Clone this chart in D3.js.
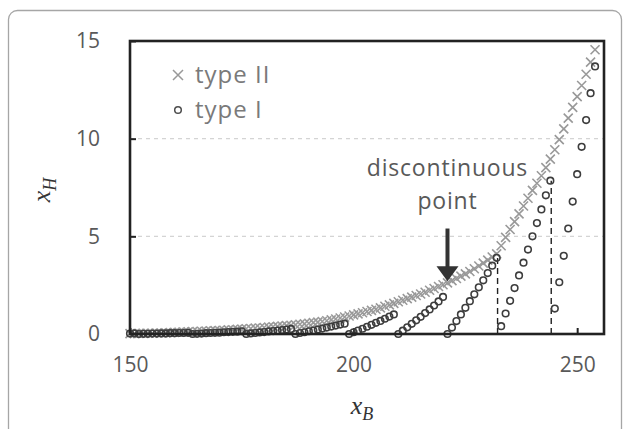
<!DOCTYPE html>
<html>
<head>
<meta charset="utf-8">
<script src="https://cdn.jsdelivr.net/npm/d3@7"></script>
<style>
    body { margin: 0; background: #fff; }
    svg text { font-family: "Open Sans", sans-serif; fill: #595959; }
</style>
</head>
<body>
<div id="chart"></div>
<script>
// sample positions (x_B) shared by both series
var xValues = [
    150, 151, 152, 153, 154, 155, 156, 157, 158, 159, 160, 161, 162, 163, 164, 165, 166, 167, 168, 169,
    170, 171, 172, 173, 174, 175, 176, 177, 178, 179, 180, 181, 182, 183, 184, 185, 186, 187, 188, 189,
    190, 191, 192, 193, 194, 195, 196, 197, 198, 199, 200, 201, 202, 203, 204, 205, 206, 207, 208, 209,
    210, 211, 212, 213, 214, 215, 216, 217, 218, 219, 220, 221, 222, 223, 224, 225, 226, 227, 228, 229,
    230, 231, 232, 233, 234, 235, 236, 237, 238, 239, 240, 241, 242, 243, 244, 245, 246, 247, 248, 249,
    250, 251, 252, 253, 254
];
// type II, x marks
var typeII = [
    0.02, 0.02, 0.03, 0.03, 0.04, 0.04, 0.05, 0.05, 0.06, 0.07, 0.08, 0.09, 0.10, 0.11, 0.12, 0.13, 0.14, 0.15, 0.16, 0.17,
    0.18, 0.19, 0.21, 0.22, 0.24, 0.25, 0.27, 0.28, 0.30, 0.31, 0.33, 0.35, 0.37, 0.39, 0.41, 0.43, 0.45, 0.47, 0.50, 0.52,
    0.55, 0.58, 0.61, 0.64, 0.68, 0.72, 0.77, 0.82, 0.87, 0.92, 0.98, 1.03, 1.09, 1.15, 1.21, 1.27, 1.34, 1.42, 1.49, 1.57,
    1.65, 1.73, 1.81, 1.89, 1.97, 2.05, 2.14, 2.24, 2.33, 2.43, 2.52, 2.62, 2.73, 2.84, 2.96, 3.08, 3.20, 3.34, 3.48, 3.63,
    3.78, 3.94, 4.10, 4.52, 4.95, 5.35, 5.75, 6.15, 6.55, 6.95, 7.35, 7.72, 8.10, 8.52, 8.95, 9.43, 9.95, 10.50, 11.05, 11.60,
    12.15, 12.72, 13.30, 13.92, 14.55
];
// type I, circles (saw-tooth branches)
var typeI = [
    0.02, 0.03, 0.00, 0.01, 0.01, 0.02, 0.02, 0.03, 0.03, 0.04, 0.04, 0.05, 0.05, 0.06, 0.00, 0.01, 0.02, 0.04, 0.05, 0.06,
    0.07, 0.09, 0.10, 0.11, 0.12, 0.14, 0.00, 0.03, 0.05, 0.08, 0.10, 0.13, 0.15, 0.18, 0.20, 0.23, 0.26, 0.00, 0.05, 0.09,
    0.14, 0.18, 0.23, 0.28, 0.33, 0.38, 0.43, 0.48, 0.53, 0.00, 0.09, 0.18, 0.27, 0.37, 0.47, 0.57, 0.67, 0.78, 0.89, 1.00,
    0.00, 0.17, 0.34, 0.52, 0.70, 0.88, 1.07, 1.26, 1.46, 1.67, 1.90, 0.00, 0.33, 0.66, 1.00, 1.34, 1.68, 2.03, 2.39, 2.75,
    3.12, 3.50, 3.90, 0.40, 1.05, 1.70, 2.35, 3.00, 3.65, 4.32, 5.00, 5.68, 6.38, 7.10, 7.85, 1.30, 2.65, 4.00, 5.40, 6.78,
    8.18, 9.58, 10.95, 12.33, 13.70
];
var jumpX = [232.2, 244.2];
var jumpTop = [3.9, 7.85];
var arrowX = 221, arrowFrom = 5.4, arrowTo = 2.7;
var noteLines = ["discontinuous", "point"];
var noteY = [8.5, 6.8];
var xTicks = [150, 200, 250];
var yTicks = [0, 5, 10, 15];
var gridTicks = [5, 10];
var legendLabels = ["type II", "type I"];

var o = {v: 626, h: 429, margin: {left: 130, top: 41}, width: 474, height: 293};

var svg = d3.select("#chart").append("svg")
    .attr("width", o.v)
    .attr("height", o.h);

// outer rounded frame of the figure
svg.append("rect")
    .attr("x", 8.5).attr("y", 10.5)
    .attr("width", 613).attr("height", 450)
    .attr("rx", 9)
    .style("fill", "none")
    .style("stroke", "#a6a6a6")
    .style("stroke-width", 1.3);

var chart = svg.append("g")
    .attr("transform", "translate(" + o.margin.left + "," + o.margin.top + ")");

var x = d3.scaleLinear().domain([150, 256]).range([0, o.width]),
    y = d3.scaleLinear().domain([0, 15]).range([o.height, 0]);

// dashed gridlines
chart.selectAll(".grid")
    .data(gridTicks)
    .enter()
    .append("line")
    .attr("x1", 0).attr("x2", o.width)
    .attr("y1", function (d) { return y(d); })
    .attr("y2", function (d) { return y(d); })
    .style("stroke", "#d4d4d4")
    .style("stroke-width", 1.2)
    .style("stroke-dasharray", "4,4");

var yAxis = d3.axisLeft(y).tickValues(yTicks).tickSizeInner(-6).tickSizeOuter(0).tickPadding(30);
var xAxis = d3.axisBottom(x).tickValues(xTicks).tickSizeInner(-6).tickSizeOuter(0).tickPadding(23);

chart.append("g").call(yAxis);
chart.append("g").attr("transform", "translate(0," + o.height + ")").call(xAxis);
chart.selectAll(".domain").remove();
chart.selectAll(".tick line").style("stroke", "#222").style("stroke-width", 2);
chart.selectAll(".tick text").style("font-size", "21px").style("fill", "#595959");

var pts = xValues.map(function (d, i) {
    return {x: d, a: typeII[i], b: typeI[i]};
});

// type II markers
chart.append("g")
    .selectAll("path")
    .data(pts)
    .enter()
    .append("path")
    .attr("transform", function (d) { return "translate(" + x(d.x) + "," + y(d.a) + ")"; })
    .attr("d", "M-4.5,-4.5L4.5,4.5M-4.5,4.5L4.5,-4.5")
    .style("stroke", "#999")
    .style("stroke-width", 1.6)
    .style("fill", "none");

// jump lines
chart.selectAll(".jump")
    .data(jumpX)
    .enter()
    .append("line")
    .attr("x1", function (d) { return x(d); })
    .attr("x2", function (d) { return x(d); })
    .attr("y1", y(0))
    .attr("y2", function (d, i) { return y(jumpTop[i]); })
    .style("stroke", "#222")
    .style("stroke-width", 1.4)
    .style("stroke-dasharray", "6,4");

// type I markers
chart.append("g")
    .selectAll("circle")
    .data(pts)
    .enter()
    .append("circle")
    .attr("cx", function (d) { return x(d.x); })
    .attr("cy", function (d) { return y(d.b); })
    .attr("r", 3.3)
    .style("fill", "none")
    .style("stroke", "#3d3d3d")
    .style("stroke-width", 1.6);

// plot area frame
chart.append("rect")
    .attr("width", o.width)
    .attr("height", o.height)
    .style("fill", "none")
    .style("stroke", "#222")
    .style("stroke-width", 2.6);

// annotation
chart.selectAll(".note")
    .data(noteLines)
    .enter()
    .append("text")
    .attr("x", x(arrowX))
    .attr("y", function (d, i) { return y(noteY[i]); })
    .attr("dy", "0.35em")
    .attr("text-anchor", "middle")
    .style("font-size", "23px")
    .style("letter-spacing", "0.8px")
    .text(function (d) { return d; });

chart.append("line")
    .attr("x1", x(arrowX)).attr("x2", x(arrowX))
    .attr("y1", y(arrowFrom)).attr("y2", y(arrowTo) - 12)
    .style("stroke", "#333")
    .style("stroke-width", 4);
chart.append("path")
    .attr("d", "M" + (x(arrowX) - 11) + "," + (y(arrowTo) - 15) +
        "L" + (x(arrowX) + 11) + "," + (y(arrowTo) - 15) +
        "L" + x(arrowX) + "," + y(arrowTo) + "Z")
    .style("fill", "#333");

// legend
var legend = chart.append("g").attr("transform", "translate(48,34)");
legend.append("path")
    .attr("d", "M-5,-5L5,5M-5,5L5,-5")
    .style("stroke", "#999")
    .style("stroke-width", 1.5);
legend.append("circle")
    .attr("cy", 35)
    .attr("r", 3.3)
    .style("fill", "none")
    .style("stroke", "#4d4d4d")
    .style("stroke-width", 1.5);
legend.selectAll("text")
    .data(legendLabels)
    .enter()
    .append("text")
    .attr("x", 17)
    .attr("y", function (d, i) { return i * 35; })
    .attr("dy", "0.35em")
    .style("font-size", "24px")
    .style("letter-spacing", "1px")
    .style("fill", "#7a7a7a")
    .text(function (d) { return d; });

// axis titles
var yTitle = svg.append("text")
    .attr("transform", "translate(50,190) rotate(-90)")
    .attr("text-anchor", "middle")
    .style("font-family", "'Liberation Serif', serif")
    .style("font-style", "italic")
    .style("font-size", "26px")
    .style("fill", "#333");
yTitle.append("tspan").text("x");
yTitle.append("tspan").attr("dy", 6).style("font-size", "18px").text("H");

var xTitle = svg.append("text")
    .attr("x", 362).attr("y", 414)
    .attr("text-anchor", "middle")
    .style("font-family", "'Liberation Serif', serif")
    .style("font-style", "italic")
    .style("font-size", "26px")
    .style("fill", "#333");
xTitle.append("tspan").text("x");
xTitle.append("tspan").attr("dy", 6).style("font-size", "18px").text("B");
</script>
</body>
</html>
